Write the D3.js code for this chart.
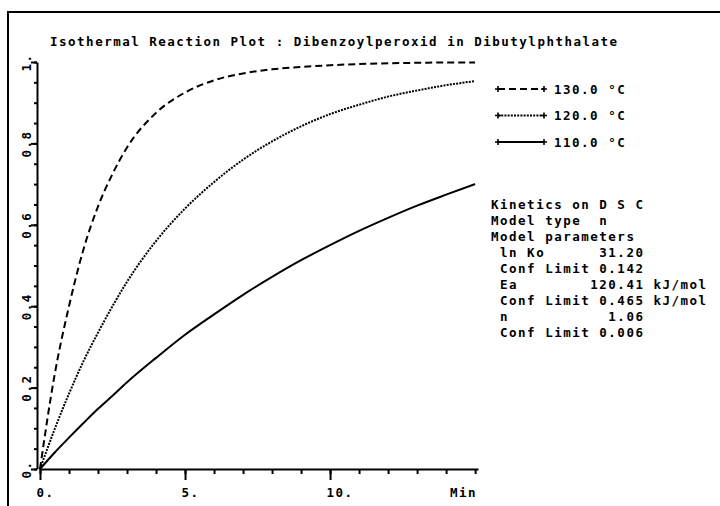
<!DOCTYPE html>
<html>
  <head>
    <meta charset="utf-8">
    <title>Isothermal Reaction Plot</title>
    <script src="https://cdn.jsdelivr.net/npm/d3@7"></script>
    <style>
      body { margin: 0; background: #fff; }
      svg text {
        font-family: "DejaVu Sans Mono", "Liberation Mono", monospace;
        font-size: 12.5px;
        font-weight: bold;
        letter-spacing: 1.5px;
        fill: #000;
        white-space: pre;
      }
      .axis path, .axis line { stroke: #000; stroke-width: 2; }
    </style>
  </head>
  <body>
    <svg width="720" height="506"></svg>
    <script>
      // time in minutes, conversion
      var times = [0, 0.5, 1, 1.5, 2, 2.5, 3, 4, 5, 6, 7, 8, 9, 10, 11, 12, 13, 14, 15];
      var conv130 = [0, 0.23, 0.40, 0.54, 0.645, 0.725, 0.79, 0.875, 0.925, 0.955, 0.972, 0.982, 0.988, 0.992, 0.995, 0.997, 0.998, 0.999, 0.999];
      var conv120 = [0, 0.097, 0.185, 0.265, 0.335, 0.40, 0.46, 0.56, 0.64, 0.705, 0.76, 0.805, 0.842, 0.872, 0.895, 0.915, 0.93, 0.943, 0.953];
      var conv110 = [0, 0.04, 0.077, 0.113, 0.148, 0.18, 0.213, 0.273, 0.33, 0.38, 0.428, 0.472, 0.513, 0.55, 0.585, 0.617, 0.647, 0.674, 0.70];

      var seriesNames = ["130.0 °C", "120.0 °C", "110.0 °C"];
      var seriesDash = ["7,4", "2,1.2", null];

      var xMajor = [0, 5, 10];
      var xMajorLabels = ["0.", "5.", "10."];
      var yMajor = [0, 0.2, 0.4, 0.6, 0.8, 1];
      var yMajorLabels = ["0.", "0.2", "0.4", "0.6", "0.8", "1."];

      var title = "Isothermal Reaction Plot : Dibenzoylperoxid in Dibutylphthalate";
      var infoLines = [
        "Kinetics on D S C",
        "Model type  n",
        "Model parameters",
        " ln Ko      31.20",
        " Conf Limit 0.142",
        " Ea        120.41 kJ/mol",
        " Conf Limit 0.465 kJ/mol",
        " n           1.06",
        " Conf Limit 0.006"
      ];

      var svg = d3.select("svg");

      var x = d3.scaleLinear().domain([0, 15.1]).range([40, 478]);
      var y = d3.scaleLinear().domain([0, 1]).range([469, 62]);

      // page frame
      svg.append("path")
          .attr("d", "M8,506 V12 H720")
          .attr("fill", "none")
          .attr("stroke", "#000")
          .attr("stroke-width", 2);

      svg.append("text")
          .attr("x", 50)
          .attr("y", 46)
          .text(title);

      // x axis: minor then major ticks
      svg.append("g")
          .attr("class", "axis")
          .attr("transform", "translate(0," + y(0) + ")")
          .call(d3.axisBottom(x).tickValues(d3.range(0, 16)).tickSize(5).tickSizeOuter(0).tickFormat(""));
      var xAxis = svg.append("g")
          .attr("class", "axis")
          .attr("transform", "translate(0," + y(0) + ")")
          .call(d3.axisBottom(x).tickValues(xMajor).tickSize(11).tickSizeOuter(0)
            .tickFormat(function(d, i) { return xMajorLabels[i]; }));
      xAxis.select(".domain").remove();
      xAxis.selectAll("text")
          .attr("dy", null)
          .attr("y", 28)
          .attr("text-anchor", "start")
          .attr("dx", -4);
      svg.append("text")
          .attr("x", 477)
          .attr("y", y(0) + 28)
          .attr("text-anchor", "end")
          .text("Min");

      // y axis
      svg.append("g")
          .attr("class", "axis")
          .attr("transform", "translate(37,0)")
          .call(d3.axisLeft(y).tickValues(d3.range(0, 1.001, 0.05)).tickSize(3).tickSizeOuter(0).tickFormat(""));
      var yAxis = svg.append("g")
          .attr("class", "axis")
          .attr("transform", "translate(37,0)")
          .call(d3.axisLeft(y).tickValues(yMajor).tickSize(6).tickSizeOuter(0)
            .tickFormat(function(d, i) { return yMajorLabels[i]; }));
      yAxis.select(".domain").remove();
      yAxis.selectAll("text")
          .attr("x", null)
          .attr("dy", null)
          .attr("text-anchor", "middle")
          .attr("transform", "translate(-6,0) rotate(-90)")
          .attr("y", 0);

      // curves
      var series = [conv130, conv120, conv110];
      var line = d3.line()
          .x(function(d, i) { return x(times[i]); })
          .y(function(d) { return y(d); })
          .curve(d3.curveMonotoneX);

      svg.append("g").selectAll("path")
          .data(series)
          .join("path")
          .attr("d", line)
          .attr("fill", "none")
          .attr("stroke", "#000")
          .attr("stroke-width", 2)
          .attr("stroke-dasharray", function(d, i) { return seriesDash[i]; });

      // legend
      var legend = svg.append("g").selectAll("g")
          .data(seriesNames)
          .join("g")
          .attr("transform", function(d, i) { return "translate(498," + (89 + i * 26.5) + ")"; });
      legend.append("line")
          .attr("x1", 0).attr("x2", 46)
          .attr("stroke", "#000")
          .attr("stroke-width", 2)
          .attr("stroke-dasharray", function(d, i) { return seriesDash[i]; });
      legend.append("path")
          .attr("d", "M-3,0H3M0,-3V3M43,0H49M46,-3V3")
          .attr("stroke", "#000")
          .attr("stroke-width", 1.6);
      legend.append("text")
          .attr("x", 56)
          .attr("y", 4.5)
          .text(function(d) { return d; });

      // model info block
      svg.append("g").selectAll("text")
          .data(infoLines)
          .join("text")
          .attr("x", 491)
          .attr("y", function(d, i) { return 209 + i * 16; })
          .text(function(d) { return d; });
    </script>
  </body>
</html>
